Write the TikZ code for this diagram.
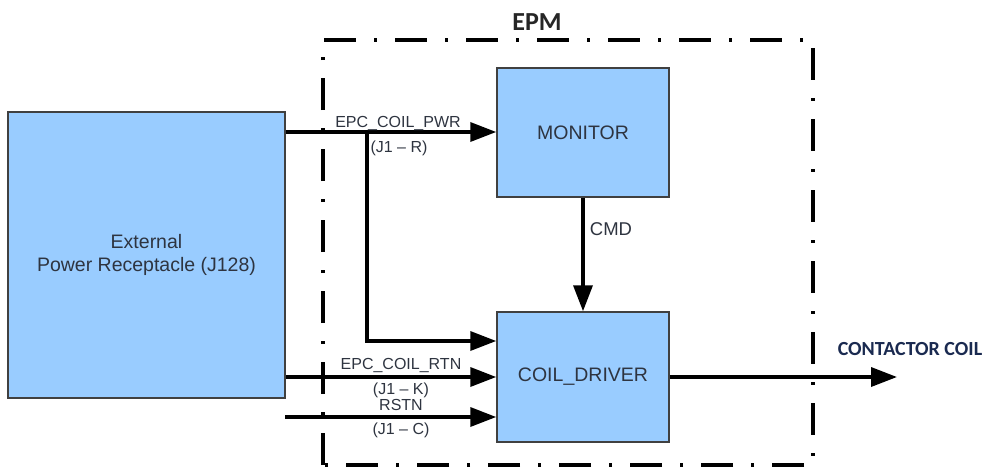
\documentclass[tikz,border=0pt]{standalone}
\usepackage{fontspec}
\setmainfont{Liberation Sans}
\newfontfamily\calib{Carlito}
\usetikzlibrary{arrows.meta}
\definecolor{boxfill}{HTML}{99CCFF}
\definecolor{boxline}{HTML}{404040}
\definecolor{txt}{HTML}{2E3440}
\definecolor{navy}{HTML}{1A2A50}
\begin{document}
\begin{tikzpicture}[x=1pt,y=-1pt,
  blk/.style={draw=boxline,line width=1.5pt,fill=boxfill,inner sep=0pt,text=txt,font=\fontsize{19.5}{23}\selectfont,align=center},
  wire/.style={line width=3.5pt,-{Triangle[length=26pt,width=19pt]}},
  lbl/.style={text=txt,font=\fontsize{16}{18}\selectfont,inner sep=0pt}]
\useasboundingbox (0,0) rectangle (987,472);
% EPM dash-dot frame
\draw[line width=3.5pt,dash pattern=on 32pt off 18pt on 3pt off 18pt]
  (323,465) -- (323,40) -- (813,40) -- (813,465) -- cycle;
\node[font=\calib\bfseries\fontsize{26}{30}\selectfont,text=black!85] (epm) at (537,22) {EPM};
% blocks
\node[blk,minimum width=277pt,minimum height=286pt] (ext) at (146.5,255) {External\\Power Receptacle (J128)};
\node[blk,minimum width=172pt,minimum height=129pt] (mon) at (583,132.5) {MONITOR};
\node[blk,minimum width=172pt,minimum height=130pt] (drv) at (583,377) {COIL\_DRIVER};
% coordinates
\coordinate (pwrA) at (ext.east |- 0,132);
\coordinate (br) at (367,132);
\coordinate (rtnA) at (ext.east |- 0,377);
\coordinate (rstA) at (285,417);
\coordinate (out) at (897,377);
% wires
\draw[wire] (pwrA) -- (pwrA -| mon.west);
\draw[wire] (br) |- (mon.west |- 0,341);
\draw[wire] (rtnA) -- (rtnA -| drv.west);
\draw[wire] (rstA) -- (rstA -| drv.west);
\draw[wire] (mon.south) -- (drv.north);
\draw[wire] (drv.east |- out) -- (out);
% labels
\node[lbl] (l1) at (398,123) {EPC\_COIL\_PWR};
\node[lbl] (l2) at (399,148) {(J1 – R)};
\node[lbl] (l3) at (401,365) {EPC\_COIL\_RTN};
\node[lbl] (l4) at (401,390) {(J1 – K)};
\node[lbl] (l5) at (401,405) {RSTN};
\node[lbl] (l6) at (401,430) {(J1 – C)};
\node[lbl,font=\fontsize{18.5}{21}\selectfont] (l7) at (611,229) {CMD};
\node[font=\calib\bfseries\fontsize{20}{24}\selectfont,text=navy,inner sep=0pt] (cc) at (910,349) {CONTACTOR COIL};
\end{tikzpicture}
\end{document}
